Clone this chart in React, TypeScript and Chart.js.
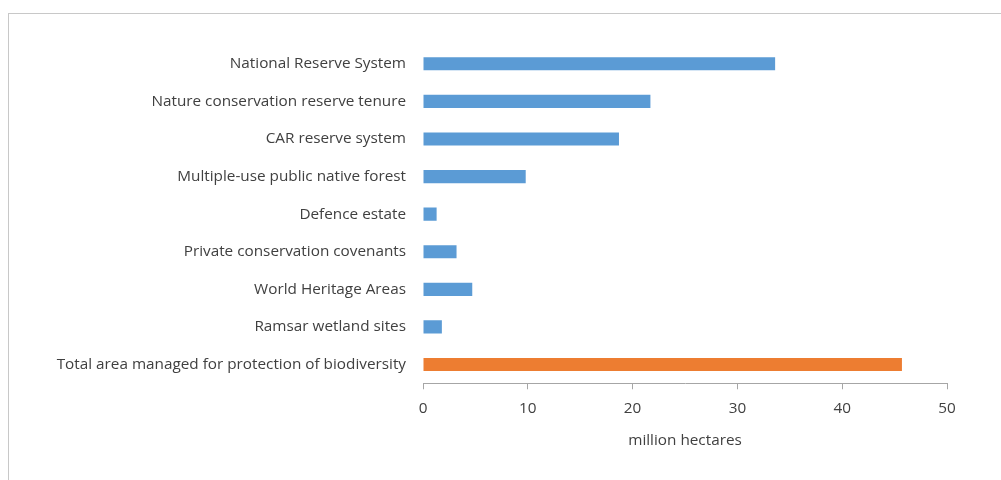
import React, { useEffect, useRef } from "react";
import { Chart, registerables } from "chart.js";

Chart.register(...registerables);

const categories = [
  "National Reserve System",
  "Nature conservation reserve tenure",
  "CAR reserve system",
  "Multiple-use public native forest",
  "Defence estate",
  "Private conservation covenants",
  "World Heritage Areas",
  "Ramsar wetland sites",
  "Total area managed for protection of biodiversity",
];

const areaMillionHa = [33.6, 21.7, 18.7, 9.8, 1.3, 3.2, 4.7, 1.8, 45.7];

const xTicks = [0, 10, 20, 30, 40, 50];
const xAxisTitle = "million hectares";

const BLUE = "#5B9BD5";
const ORANGE = "#ED7D31";
const TEXT = "#404040";
const AXIS = "#A6A6A6";
const FONT = "'Open Sans', 'Noto Sans', sans-serif";
const FONT_SIZE = 15.3;

export default function App() {
  const canvasRef = useRef<HTMLCanvasElement | null>(null);

  useEffect(() => {
    if (!canvasRef.current) return;
    const chart = new Chart(canvasRef.current, {
      type: "bar",
      data: {
        labels: categories,
        datasets: [
          {
            data: areaMillionHa,
            backgroundColor: categories.map((_, i) =>
              i === categories.length - 1 ? ORANGE : BLUE
            ),
            borderWidth: 0,
            categoryPercentage: 1,
            barPercentage: 0.35,
          },
        ],
      },
      options: {
        indexAxis: "y",
        animation: false,
        responsive: false,
        maintainAspectRatio: false,
        layout: { padding: { top: 31, right: 42, bottom: 24, left: 0 } },
        plugins: {
          legend: { display: false },
          tooltip: { enabled: false },
        },
        scales: {
          x: {
            min: 0,
            max: 50,
            afterBuildTicks: (scale: any) => {
              scale.ticks = xTicks.map((v) => ({ value: v }));
            },
            grid: {
              drawOnChartArea: false,
              drawTicks: true,
              tickLength: 6,
              color: AXIS,
            },
            border: { display: true, color: AXIS, width: 1 },
            ticks: {
              padding: 10,
              color: TEXT,
              font: { family: FONT, size: FONT_SIZE },
              maxRotation: 0,
            },
            title: {
              display: true,
              text: xAxisTitle,
              color: TEXT,
              font: { family: FONT, size: FONT_SIZE },
              padding: { top: 4, bottom: 0 },
            },
          },
          y: {
            grid: { display: false, drawTicks: false },
            border: { display: false },
            afterFit: (scale: any) => {
              scale.width = 414;
            },
            ticks: {
              padding: 17,
              color: TEXT,
              font: { family: FONT, size: FONT_SIZE },
              autoSkip: false,
            },
          },
        },
      },
    });
    return () => chart.destroy();
  }, []);

  return (
    <div
      style={{
        position: "fixed",
        left: 8,
        top: 13,
        width: 1000,
        height: 480,
        borderTop: "1px solid #C8C8C8",
        borderLeft: "1px solid #C8C8C8",
        background: "#fff",
      }}
    >
      <canvas ref={canvasRef} width={980} height={460} style={{ display: "block" }} />
    </div>
  );
}
